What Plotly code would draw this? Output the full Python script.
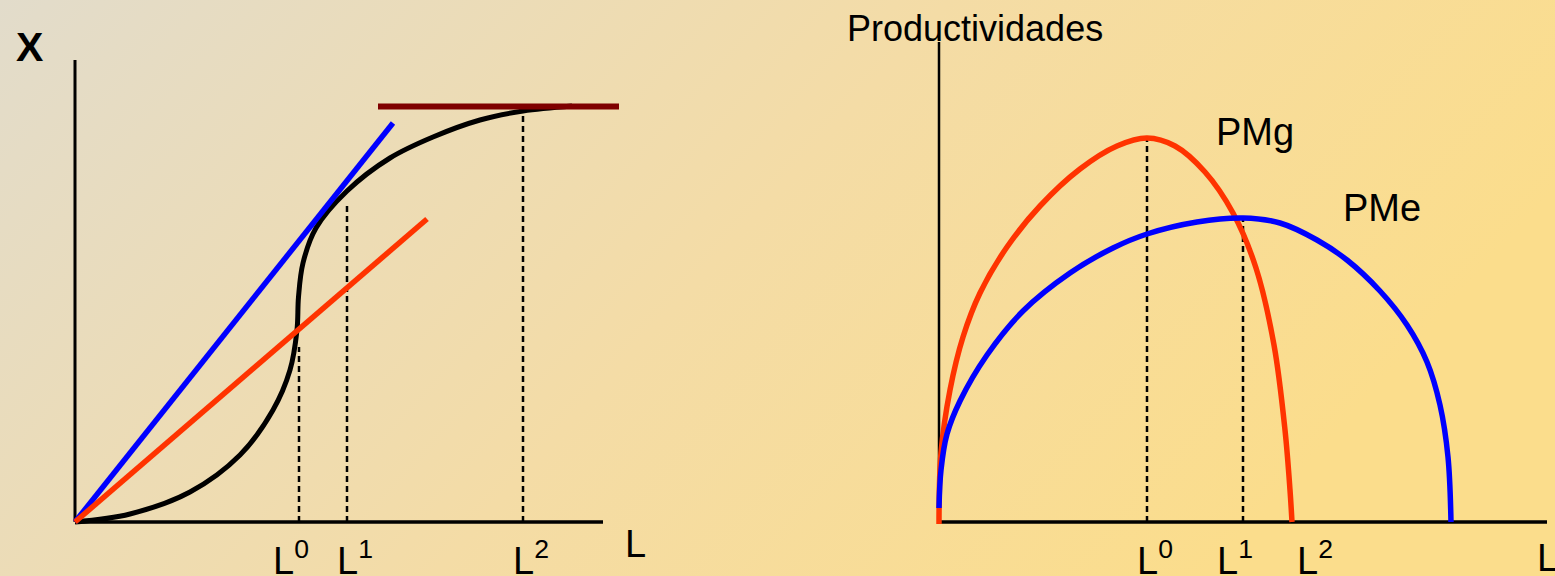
import base64
import plotly.graph_objects as go

# ---------------- data (panel units: L to the right, value upward) ----------------
# Left panel: total product curve X(L) and rays
prod_L = [0, 55, 115, 165, 198, 215, 222, 223.5, 228, 241, 272, 315, 358, 405, 448, 497]
prod_X = [0, 8, 30, 67, 112, 152, 192, 225, 259, 294, 331, 364, 385, 402, 411, 416]
blue_ray_L = [0, 318]
blue_ray_X = [0, 399]
red_ray_L = [0, 352]
red_ray_X = [0, 303]
max_line_L = [303, 544]
max_line_X = [415.5, 415.5]
left_marks_L = [224, 272, 448]
left_marks_top = [175, 320, 415]
left_axis_len = [528, 462]

# Right panel: marginal (PMg) and average (PMe) productivities
pmg_L = [0, 2, 11, 24, 41, 68, 101, 141, 178, 208, 236, 266, 294, 317, 335, 346, 351, 353]
pmg_v = [-2, 69, 132, 185, 229, 275, 316, 353, 376, 384, 376, 350, 309, 254, 177, 92, 32, 0]
pme_L = [0, 2, 8, 21, 48, 84, 131, 174, 208, 258, 304, 341, 378, 408, 441, 468, 488, 501, 509, 512]
pme_v = [14, 52, 88, 121, 167, 211, 249, 274, 288, 300, 304, 299, 282, 262, 231, 197, 160, 117, 65, 0]
right_marks_L = [208, 304]
right_marks_top = [384, 304]
right_axis_len = [608, 480]

tick_labels = ["L<sup>0</sup>", "L<sup>1</sup>", "L<sup>2</sup>"]
left_tick_pos = [196, 260, 436]
right_tick_pos = [196, 276, 356]

BLUE = "#0000FF"
RED = "#FF3300"
MAROON = "#7F0000"
FONT = "Liberation Sans, Arial, sans-serif"

# ---------------- background gradient ----------------
svg = (
    "<svg xmlns='http://www.w3.org/2000/svg' width='1555' height='576' preserveAspectRatio='none'>"
    "<defs><linearGradient id='g' x1='0' y1='0' x2='955' y2='859' gradientUnits='userSpaceOnUse'>"
    "<stop offset='0' stop-color='#E2DCCB'/>"
    "<stop offset='0.55' stop-color='#F4DCA6'/>"
    "<stop offset='1' stop-color='#FBDD8C'/>"
    "</linearGradient></defs>"
    "<rect width='1555' height='576' fill='url(#g)'/></svg>"
)
bg_src = "data:image/svg+xml;base64," + base64.b64encode(svg.encode()).decode()

fig = go.Figure()


def line(x, y, color, width, ax="", dash=None, shape="linear"):
    fig.add_trace(go.Scatter(
        x=x, y=y, mode="lines", xaxis="x" + ax, yaxis="y" + ax,
        line=dict(color=color, width=width, dash=dash, shape=shape),
        hoverinfo="skip", showlegend=False))


# left panel
for L, top in zip(left_marks_L, left_marks_top):
    line([L, L], [0, top], "black", 2.5, dash="6px,4px")
line([0, 0], [0, left_axis_len[1]], "black", 3)
line([0, left_axis_len[0]], [0, 0], "black", 3.5)
line(prod_L, prod_X, "black", 5, shape="spline")
line(blue_ray_L, blue_ray_X, BLUE, 5.5)
line(red_ray_L, red_ray_X, RED, 5.5)
line(max_line_L, max_line_X, MAROON, 6)

# right panel
for L, top in zip(right_marks_L, right_marks_top):
    line([L, L], [0, top], "black", 2.5, ax="2", dash="6px,4px")
line([0, 0], [0, right_axis_len[1]], "black", 2.5, ax="2")
line([0, right_axis_len[0]], [0, 0], "black", 3.5, ax="2")
line(pmg_L, pmg_v, RED, 5.5, ax="2", shape="spline")
line(pme_L, pme_v, BLUE, 5.5, ax="2", shape="spline")

ann = []


def text(t, x, y, ax="", size=38, bold=False, xanchor="left", yanchor="middle"):
    ann.append(dict(
        text=("<b>%s</b>" % t) if bold else t, x=x, y=y, xref="x" + ax, yref="y" + ax,
        showarrow=False, xanchor=xanchor, yanchor=yanchor,
        font=dict(family=FONT, size=size, color="black")))


text("X", -46, 475, size=41, bold=True, xanchor="center")
for t, p in zip(tick_labels, left_tick_pos):
    text(t, p, -36)
text("L", 548, -22)
text("Productividades", -94, 494, ax="2", size=36)
text("PMg", 275, 390, ax="2")
text("PMe", 402, 314, ax="2")
for t, p in zip(tick_labels, right_tick_pos):
    text(t, p, -36, ax="2")
text("L", 596, -36, ax="2")

fig.update_layout(
    width=1555, height=576,
    margin=dict(l=0, r=0, t=0, b=0),
    paper_bgcolor="#F2DCAA", plot_bgcolor="rgba(0,0,0,0)",
    images=[dict(source=bg_src, xref="paper", yref="paper", x=0, y=1,
                 sizex=1, sizey=1, xanchor="left", yanchor="top",
                 sizing="stretch", layer="below")],
    xaxis=dict(domain=[0, 700 / 1555], range=[-75, 625], visible=False, fixedrange=True),
    yaxis=dict(domain=[0, 1], range=[-54, 522], visible=False, fixedrange=True),
    xaxis2=dict(domain=[700 / 1555, 1], range=[-239, 616], visible=False, fixedrange=True),
    yaxis2=dict(domain=[0, 1], range=[-54, 522], visible=False, fixedrange=True, anchor="x2"),
    annotations=ann,
    showlegend=False,
)

fig.write_html(
    "out.html",
    config={"displayModeBar": False},
    post_script="document.body.style.margin='0';document.body.style.overflow='hidden';",
)
